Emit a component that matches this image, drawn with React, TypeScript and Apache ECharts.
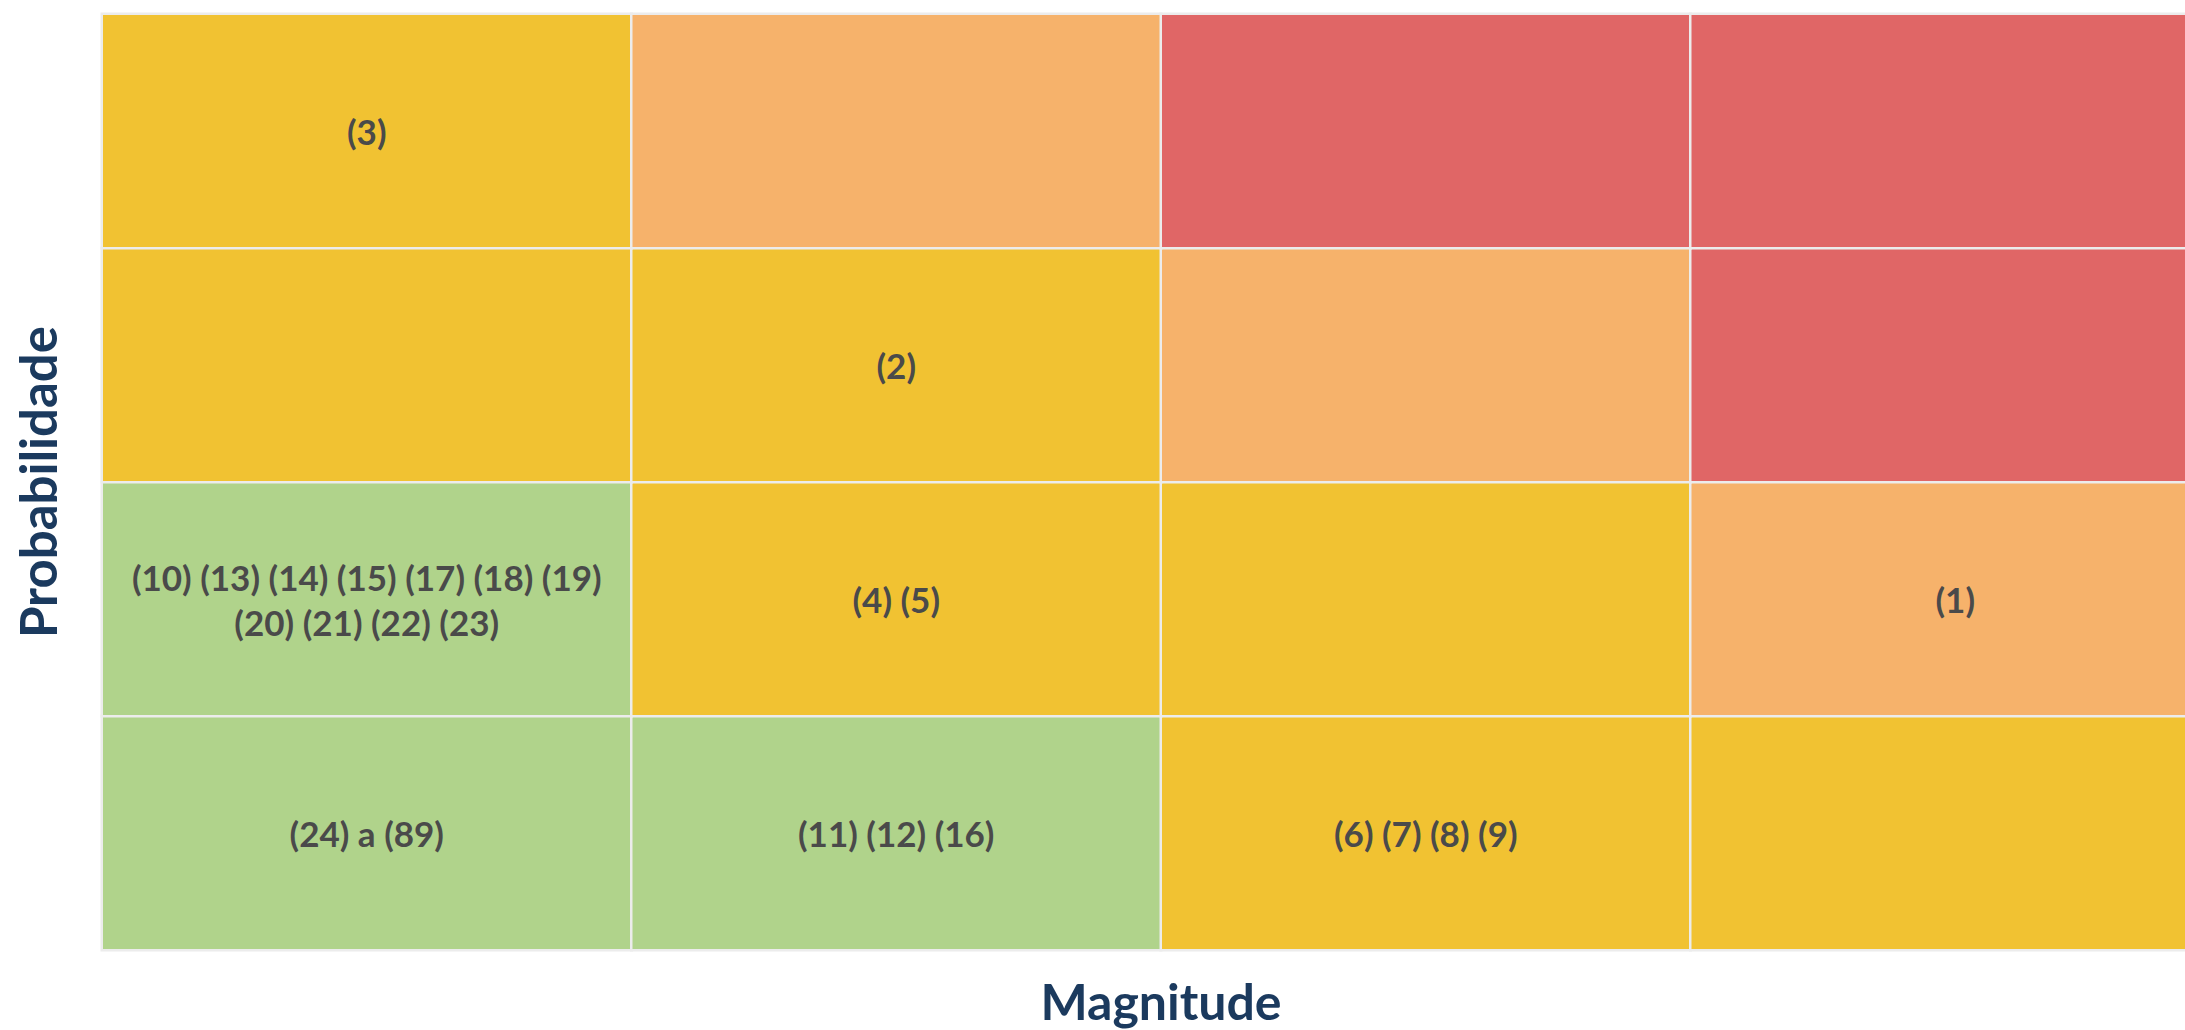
import React, { useEffect, useRef } from "react";
import * as echarts from "echarts";

// Axis categories (Magnitude: x, Probabilidade: y, bottom to top)
const magnitudeLevels = ["1", "2", "3", "4"];
const probabilityLevels = ["1", "2", "3", "4"];

// Risk level per cell, row index = probability (bottom to top), column = magnitude
const riskRow1 = [1, 1, 2, 2];
const riskRow2 = [1, 2, 2, 3];
const riskRow3 = [2, 2, 3, 4];
const riskRow4 = [2, 3, 4, 4];
const riskMatrix = [riskRow1, riskRow2, riskRow3, riskRow4];

// Cell labels, same layout
const labelRow1 = ["(24) a (89)", "(11) (12) (16)", "(6) (7) (8) (9)", ""];
const labelRow2 = [
  "(10) (13) (14) (15) (17) (18) (19)\n(20) (21) (22) (23)",
  "(4) (5)",
  "",
  "(1)",
];
const labelRow3 = ["", "(2)", "", ""];
const labelRow4 = ["(3)", "", "", ""];
const labelMatrix = [labelRow1, labelRow2, labelRow3, labelRow4];

const riskColors = ["#B0D38B", "#F1C232", "#F6B26B", "#E06666"];

export default function App() {
  const ref = useRef<HTMLDivElement>(null);

  useEffect(() => {
    if (!ref.current) return;
    const chart = echarts.init(ref.current, undefined, { renderer: "svg" });

    const data: any[] = [];
    riskMatrix.forEach((row, y) => {
      row.forEach((level, x) => {
        data.push({ value: [x, y, level], name: labelMatrix[y][x] });
      });
    });

    chart.setOption({
      animation: false,
      backgroundColor: "#ffffff",
      grid: {
        left: 102,
        top: 14,
        width: 2118,
        height: 936,
        outerBoundsMode: "none",
        containLabel: false,
      },
      xAxis: {
        type: "category",
        data: magnitudeLevels,
        name: "Magnitude",
        nameLocation: "middle",
        nameGap: 28,
        nameTextStyle: {
          fontFamily: "Lato",
          fontWeight: "bold",
          fontSize: 50,
          lineHeight: 46,
          color: "#1B3A5E",
        },
        axisLabel: { show: false },
        axisTick: { show: false },
        axisLine: { show: false },
        splitLine: { show: false },
        splitArea: { show: false },
      },
      yAxis: {
        type: "category",
        data: probabilityLevels,
        name: "Probabilidade",
        nameLocation: "middle",
        nameGap: 39,
        nameRotate: 90,
        nameTextStyle: {
          fontFamily: "Lato",
          fontWeight: "bold",
          fontSize: 51,
          color: "#1B3A5E",
        },
        axisLabel: { show: false },
        axisTick: { show: false },
        axisLine: { show: false },
        splitLine: { show: false },
        splitArea: { show: false },
      },
      visualMap: {
        type: "piecewise",
        show: false,
        dimension: 2,
        pieces: [
          { value: 1, color: riskColors[0] },
          { value: 2, color: riskColors[1] },
          { value: 3, color: riskColors[2] },
          { value: 4, color: riskColors[3] },
        ],
      },
      series: [
        {
          type: "heatmap",
          data,
          itemStyle: { borderColor: "#ececec", borderWidth: 2.5 },
          label: {
            show: true,
            formatter: (p: any) => p.name || "",
            fontFamily: "Lato",
            fontWeight: "bold",
            fontSize: 35,
            lineHeight: 45,
            color: "#4A4A4A",
          },
          emphasis: { disabled: true },
        },
      ],
    });

    return () => chart.dispose();
  }, []);

  return (
    <div
      ref={ref}
      style={{ position: "fixed", left: 0, top: 0, width: 2185, height: 1030 }}
    />
  );
}
